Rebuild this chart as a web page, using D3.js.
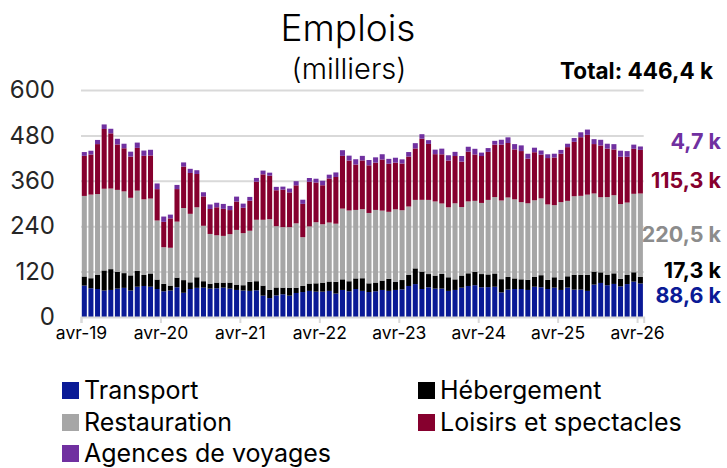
<!DOCTYPE html>
<html>
<head>
<meta charset="utf-8">
<script src="https://cdn.jsdelivr.net/npm/d3@7"></script>
<style>
  body { margin: 0; background: #fff; }
  svg { font-family: Inter, "Open Sans", sans-serif; }
</style>
</head>
<body>
<div id="vis"></div>
<script>
// mois avr-19 -> avr-26
let months = d3.timeMonth.range(new Date(2019, 3, 1), new Date(2026, 4, 1))
let tickLabels = ['avr-19', 'avr-20', 'avr-21', 'avr-22', 'avr-23', 'avr-24', 'avr-25', 'avr-26']
let yTicks = [0, 120, 240, 360, 480, 600]

let seriesNames = ['Transport', 'Hébergement', 'Restauration', 'Loisirs et spectacles', 'Agences de voyages']
let seriesColors = ['#0a1a96', '#000000', '#a6a6a6', '#86002e', '#7030a0']

let transport = [83, 76, 74, 70, 71.5, 75, 77, 70, 80, 82, 80, 74, 68, 70, 78.5, 64, 74, 77, 77.6, 75, 76, 77.6, 75, 71.5, 70, 69, 70.6, 56.5, 50, 57, 60, 56.5, 63.5, 66, 69, 67, 67, 69, 62, 71.5, 68, 74, 69, 66, 68, 71.5, 69, 71.5, 73, 82, 87, 74, 78.5, 75, 75, 69, 71.5, 77.6, 82, 84, 78.5, 79, 80, 65, 72.4, 74, 74, 71.5, 80, 78.5, 74, 77.6, 71.5, 77.6, 72.4, 72.4, 69, 85.6, 90, 84, 87.4, 81, 87, 93.5, 88.6]
let hebergement = [24, 26.5, 37, 53, 55, 44, 39, 40, 42, 29, 35, 25, 19.5, 13, 25.6, 33.5, 17.7, 28, 17, 13, 15, 13.3, 16, 14, 14, 24, 24, 26.5, 21.5, 21, 17.6, 21, 14, 16, 19.4, 22, 23.8, 24.7, 31, 28, 26.5, 28, 33.5, 23, 23, 24.7, 32, 21, 24.7, 29, 41.5, 46, 35, 34.4, 39, 36, 28, 32, 33.5, 35, 35, 33.5, 35, 35, 33.5, 28, 25.6, 27, 26.5, 32, 24, 27.4, 26.5, 30, 38.8, 38.8, 42.4, 34.4, 28, 28, 28, 20, 24, 24.7, 17.3]
let restauration = [213, 221, 214, 216, 213, 217, 216, 205, 212, 200, 198, 156, 97, 100, 148, 190.6, 181, 185, 146.5, 131.5, 125, 123.5, 128, 144.7, 137.7, 135, 162.4, 174, 187, 162, 160, 160, 170, 129, 151, 161.5, 154.4, 156, 153.6, 187, 187, 181, 182.6, 186, 192, 185, 177, 192, 184.5, 181, 181, 189.7, 196, 196, 186, 185, 201, 181, 190, 188, 188, 197, 202, 208, 210, 209, 204, 202, 202, 203, 199.5, 190.6, 205.6, 199.4, 208, 209, 212, 206.5, 198.6, 205, 206.5, 197.6, 191.5, 207.4, 220.5]
let loisirs = [106, 106, 132, 158, 146, 120, 114, 109, 113, 115, 114, 83, 67, 77.6, 86, 109.5, 108, 88, 77.6, 66, 74, 71.5, 63.6, 75, 67, 79.4, 100.6, 120, 115, 95, 99, 92, 100.5, 88, 118, 105, 103, 116.5, 123.5, 139.4, 132, 120, 128.8, 126, 125, 135, 127, 123.5, 123.5, 132, 136, 161.5, 148, 125, 130, 123.5, 125, 120, 131.5, 122.6, 124, 127, 138.6, 147.5, 144, 132, 135, 118, 127, 115.6, 122.6, 126, 128, 142, 143.8, 155, 158, 130.6, 136.8, 128, 121, 125, 121, 119, 115.3]
let agences = [10, 10, 11, 12, 12, 15, 12, 13, 14, 14, 15, 15, 14, 10, 11, 11, 11, 10, 11, 12, 12, 13, 11, 13, 11, 10, 10, 10, 8, 9, 8, 10, 11, 11, 10, 10, 12, 10, 12, 15, 13, 14, 12, 14, 14, 14, 13, 13, 11, 12, 14, 12, 10, 12, 15, 14, 11, 15, 13, 15, 9, 10, 10, 13, 15, 14, 15, 13, 12, 11, 10, 10, 10, 9, 10, 13, 14, 13, 15, 13, 14, 16, 15, 11, 9]

let lastLabels = ['88,6 k', '17,3 k', '220,5 k', '115,3 k', '4,7 k']
let totalLabel = 'Total: 446,4 k'

let width = 727, height = 468
let margin = {left: 81, right: 83.3, top: 90, bottom: 151}

let data = months.map((m, i) => ({
  month: m,
  Transport: transport[i],
  'Hébergement': hebergement[i],
  Restauration: restauration[i],
  'Loisirs et spectacles': loisirs[i],
  'Agences de voyages': agences[i]
}))

let svg = d3.select('#vis')
  .append('svg')
  .attr('width', width)
  .attr('height', height)

let x = d3.scaleBand()
  .domain(months)
  .range([margin.left, width - margin.right])
  .paddingInner(0.24)
  .paddingOuter(0.12)

let xTick = d3.scaleLinear()
  .domain([0, months.length])
  .range([margin.left, width - margin.right])

let y = d3.scaleLinear()
  .domain([0, 600])
  .range([height - margin.bottom, margin.top])

// grille
svg.append('g')
  .attr('transform', `translate(${margin.left},0)`)
  .call(d3.axisLeft(y).tickValues(yTicks.slice(1)).tickSize(-(width - margin.left - margin.right)).tickFormat(''))
  .call(g => g.select('.domain').remove())
  .call(g => g.selectAll('line').attr('stroke', '#d9d9d9').attr('stroke-width', 2))

// étiquettes y
svg.append('g')
  .attr('transform', `translate(${margin.left},0)`)
  .call(d3.axisLeft(y).tickValues(yTicks).tickSize(0).tickPadding(26))
  .call(g => g.select('.domain').remove())
  .call(g => g.selectAll('text').attr('font-size', 24).attr('fill', '#262626').style('font-family', 'Inter'))

let stack = d3.stack().keys(seriesNames)
let layers = stack(data)

svg.append('g')
  .selectAll('g')
  .data(layers)
  .join('g')
  .attr('fill', (d, i) => seriesColors[i])
  .selectAll('rect')
  .data(d => d)
  .join('rect')
  .attr('x', d => x(d.data.month))
  .attr('width', x.bandwidth())
  .attr('y', d => y(d[1]))
  .attr('height', d => y(d[0]) - y(d[1]))

// axe x
svg.append('g')
  .attr('transform', `translate(0,${y(0)})`)
  .call(d3.axisBottom(xTick)
    .tickValues(tickLabels.map((t, i) => i * 12))
    .tickSize(6)
    .tickPadding(4)
    .tickFormat((d, i) => tickLabels[i]))
  .call(g => g.select('.domain').attr('stroke', '#d9d9d9').attr('stroke-width', 2))
  .call(g => g.selectAll('line').attr('stroke', '#d9d9d9').attr('stroke-width', 2))
  .call(g => g.selectAll('text').attr('font-size', 17.5).attr('fill', '#000').style('font-family', 'Inter'))

// titre
svg.append('text')
  .attr('x', 348).attr('y', 41)
  .attr('text-anchor', 'middle')
  .attr('font-size', 37)
  .attr('font-weight', 300)
  .text('Emplois')

svg.append('text')
  .attr('x', 349).attr('y', 79)
  .attr('text-anchor', 'middle')
  .attr('font-size', 29)
  .attr('font-weight', 300)
  .text('(milliers)')

svg.append('text')
  .attr('x', 713).attr('y', 79)
  .attr('text-anchor', 'end')
  .attr('font-size', 22.5)
  .attr('font-weight', 'bold')
  .text(totalLabel)

// valeurs du dernier mois
let labelY = [295, 270, 234, 180, 141]
let labelColors = ['#0a1a96', '#000000', '#8c8c8c', '#86002e', '#7030a0']
svg.append('g')
  .selectAll('text')
  .data(lastLabels)
  .join('text')
  .attr('x', 721)
  .attr('y', (d, i) => labelY[i])
  .attr('dy', '0.35em')
  .attr('text-anchor', 'end')
  .attr('font-size', 21.5)
  .attr('font-weight', 'bold')
  .attr('fill', (d, i) => labelColors[i])
  .text(d => d)

// légende
let legendPos = [[62, 390], [418, 390], [62, 422], [418, 422], [62, 453]]
let legend = svg.append('g')
  .selectAll('g')
  .data(seriesNames)
  .join('g')
  .attr('transform', (d, i) => `translate(${legendPos[i][0]},${legendPos[i][1]})`)

legend.append('rect')
  .attr('x', 0).attr('y', -8)
  .attr('width', 17).attr('height', 17)
  .attr('fill', (d, i) => seriesColors[i])

legend.append('text')
  .attr('x', 22)
  .attr('dy', '0.35em')
  .attr('font-size', 25)
  .text(d => d)
</script>
</body>
</html>
